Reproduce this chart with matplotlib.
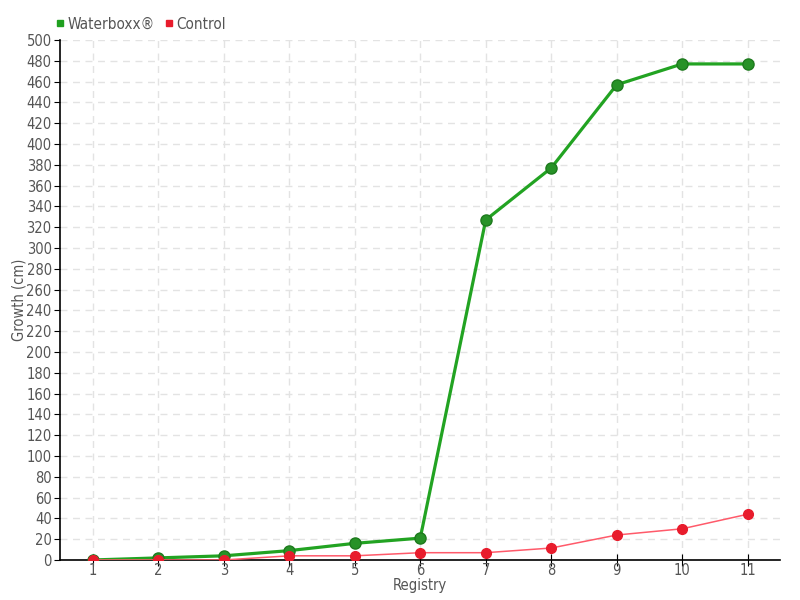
import matplotlib
matplotlib.use("Agg")
import matplotlib.pyplot as plt
from matplotlib.lines import Line2D

# data
registry = ["1", "2", "3", "4", "5", "6", "7", "8", "9", "10", "11"]
waterboxx = [0, 2, 4, 9, 16, 21, 327, 377, 457, 477, 477]
control = [0, 0, 0, 4, 4, 7, 7, 11.5, 24, 30, 44]

plt.rcParams['font.family'] = ['DejaVu Sans']
plt.rcParams['font.stretch'] = 'condensed'

fig = plt.figure(figsize=(8, 6), dpi=100)
ax = fig.add_axes([0.075, 0.0667, 0.9006, 0.8666])

x = list(range(len(registry)))
ax.plot(x, waterboxx, color='#22a322', lw=2.3, marker='o', ms=8,
        mfc='#279227', mec='#1d7a1d', mew=1, zorder=3)
ax.plot(x, control, color='#ff5a6a', lw=1.1, marker='o', ms=7,
        mfc='#e81c2c', mec='#e81c2c', zorder=4)

ax.set_xlim(-0.5, len(registry) - 0.5)
ax.set_ylim(0, 500)
ax.set_xticks(x)
ax.set_xticklabels(registry)
ax.set_yticks(range(0, 501, 20))
ax.tick_params(axis='both', labelsize=10.5, labelcolor='#555555', color='black', length=4)
ax.tick_params(axis='y', pad=2)
ax.tick_params(axis='x', direction='inout', length=8, pad=-2)

ax.grid(True, ls=(0, (5, 4)), color='#e3e3e3', lw=1)
ax.set_axisbelow(True)
for s in ['top', 'right']:
    ax.spines[s].set_visible(False)
for s in ['left', 'bottom']:
    ax.spines[s].set_color('black')
    ax.spines[s].set_linewidth(1.2)

ax.set_ylabel("Growth (cm)", fontsize=10.5, color='#555555')
ax.yaxis.set_label_coords(-0.046, 0.5)
ax.set_xlabel("Registry", fontsize=10.5, color='#555555', labelpad=0)

handles = [Line2D([], [], ls='none', marker='s', ms=5, color='#1fa01f'),
           Line2D([], [], ls='none', marker='s', ms=5, color='#e81c2c')]
leg = fig.legend(handles, ["Waterboxx®", "Control"], loc='upper left',
                 bbox_to_anchor=(0.052, 0.995), ncol=2, frameon=False,
                 fontsize=11, handlelength=0.6, handletextpad=0.2,
                 columnspacing=0.6)
for t in leg.get_texts():
    t.set_color('#555555')

fig.savefig("out.png", dpi=100)
